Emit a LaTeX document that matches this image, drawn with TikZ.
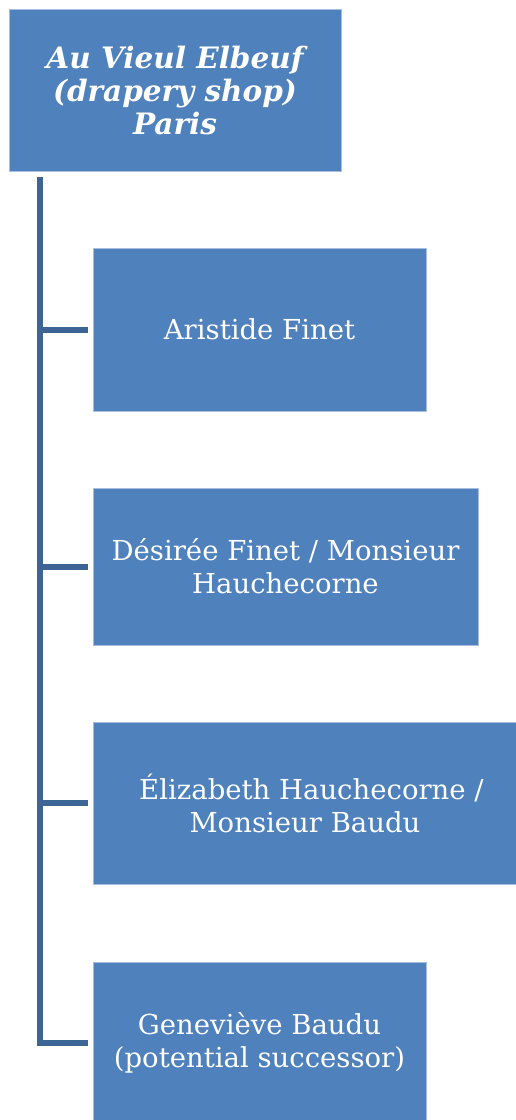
\documentclass[tikz,border=0pt]{standalone}
\usepackage{fontspec}
\setmainfont{DejaVu Serif}
\definecolor{boxfill}{HTML}{4F81BD}
\definecolor{boxedge}{HTML}{A7BEDE}
\definecolor{linecol}{HTML}{3C6595}
\tikzset{
  box/.style={draw=boxedge, line width=0.8pt, fill=boxfill, text=white, align=center, inner sep=0pt,
    font=\fontsize{27.5}{33}\selectfont},
  conn/.style={draw=linecol, line width=6pt, line join=miter},
}
\begin{document}
\begin{tikzpicture}[x=1pt,y=-1pt]
\useasboundingbox (0,0) rectangle (516,1120);
\begin{scope}
\clip (0,0) rectangle (516,1120);
\node[box, minimum width=332pt, minimum height=162pt, font=\fontsize{29.5}{33}\selectfont\bfseries\itshape] (top) at (175,90) {Au Vieul Elbeuf\\(drapery shop)\\Paris};
\node[box, minimum width=333pt, minimum height=163pt] (b1) at (259.5,329.5) {Aristide Finet};
\node[box, minimum width=385pt, minimum height=157pt] (b2) at (285.5,566.5) {Désirée Finet / Monsieur\\Hauchecorne};
\node[box, minimum width=424pt, minimum height=162pt] (b3) at (305,803) {\hspace*{13pt}Élizabeth Hauchecorne /\\Monsieur Baudu};
\node[box, minimum width=333pt, minimum height=162pt] (b4) at (259.5,1043) {Geneviève Baudu\\(potential successor)};
\end{scope}
\coordinate (start) at (40,177);
\coordinate (corner) at (40,1042.5);
\draw[conn] (start) -- (corner) -- ([xshift=-5pt]b4.west |- corner);
\draw[conn] (40,330) -- ([xshift=-5pt]b1.west |- 40,330);
\draw[conn] (40,567) -- ([xshift=-5pt]b2.west |- 40,567);
\draw[conn] (40,803) -- ([xshift=-5pt]b3.west |- 40,803);
\end{tikzpicture}
\end{document}
